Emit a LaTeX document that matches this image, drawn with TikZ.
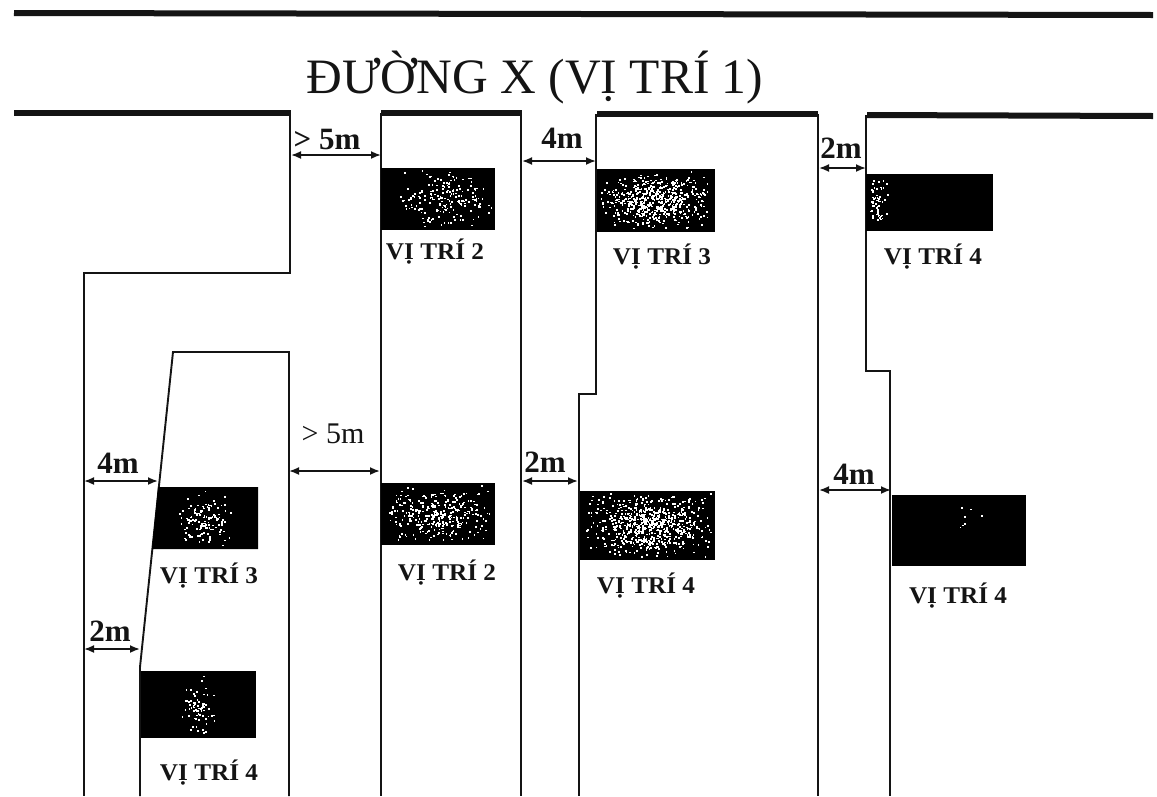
\documentclass[tikz,border=0pt]{standalone}
\usepackage{fontspec}
\setmainfont{Liberation Serif}
\usetikzlibrary{arrows.meta}
\definecolor{ink}{gray}{0.08}
\tikzset{
  road/.style={ink,line width=6pt},
  wall/.style={ink,line width=1.9pt},
  dim/.style={ink,line width=1.8pt,{Latex[length=10pt,width=8pt]}-{Latex[length=10pt,width=8pt]}},
  block/.style={fill=black,inner sep=0pt,outer sep=0pt,anchor=north west},
  tag/.style={font=\bfseries\fontsize{24}{24}\selectfont,ink,inner sep=0pt,xscale=1.05},
  dimtext/.style={font=\bfseries\fontsize{31}{31}\selectfont,ink,inner sep=0pt},
  title/.style={font=\fontsize{49.5}{49.5}\selectfont,ink,inner sep=0pt}
}
\newcommand{\specks}[5]{%
  \foreach \k in {1,...,#5}{%
    \pgfmathsetmacro{\px}{#1+#3*(rnd+rnd-1)}%
    \pgfmathsetmacro{\py}{#2+#4*(rnd+rnd-1)}%
    \fill[white] (\px,\py) rectangle ++(1.7,1.7);
  }%
}
\begin{document}
\begin{tikzpicture}[x=1pt,y=-1pt]
\useasboundingbox[fill=white] (0,0) rectangle (1157,796);
\pgfmathsetseed{4242}
% road lines
\coordinate (t1) at (14,13); \coordinate (t2) at (1153,15);
\draw[road] (t1) -- (t2);
\node[title] (ttl) at (535,78) {ĐƯỜNG X (VỊ TRÍ 1)};
\coordinate (a1) at (14,113); \coordinate (a2) at (291,113);
\coordinate (b1) at (381,113); \coordinate (b2) at (522,113);
\coordinate (c1) at (597,114); \coordinate (c2) at (818,114);
\coordinate (d1) at (867,115); \coordinate (d2) at (1153,116);
\draw[road] (a1) -- (a2);
\draw[road] (b1) -- (b2);
\draw[road] (c1) -- (c2);
\draw[road] (d1) -- (d2);
% walls
\draw[wall] (290,113) -- (290,273) -- (84,273) -- (84,796);
\draw[wall] (140,796) -- (140,667) -- (173,352) -- (289,352) -- (289,796);
\draw[wall] (381,113) -- (381,796);
\draw[wall] (521,113) -- (521,796);
\draw[wall] (596,114) -- (596,394) -- (579,394) -- (579,796);
\draw[wall] (818,114) -- (818,796);
\draw[wall] (866,115) -- (866,371) -- (890,371) -- (890,796);
% blocks
\node[block,minimum width=114pt,minimum height=62pt] (r1) at (381,168) {};
\specks{445}{199}{50}{30}{190}
\node[block,minimum width=118pt,minimum height=63pt] (r2) at (597,169) {};
\specks{655}{200}{57}{30}{560}
\node[block,minimum width=127pt,minimum height=57pt] (r3) at (866,174) {};
\specks{878}{202}{11}{27}{55}
\fill[black] (158,487) -- (258,487) -- (258,549) -- (152,549) -- cycle;
\specks{204}{518}{28}{30}{130}
\node[block,minimum width=115pt,minimum height=67pt] (r5) at (141,671) {};
\specks{198}{705}{18}{33}{70}
\node[block,minimum width=114pt,minimum height=62pt] (r6) at (381,483) {};
\specks{438}{514}{53}{30}{320}
\node[block,minimum width=135pt,minimum height=69pt] (r7) at (580,491) {};
\specks{647}{525}{65}{33}{700}
\node[block,minimum width=134pt,minimum height=71pt] (r8) at (892,495) {};
\specks{965}{520}{20}{25}{7}
% block labels
\node[tag] (l1) at (435,252) {VỊ TRÍ 2};
\node[tag] (l2) at (662,257) {VỊ TRÍ 3};
\node[tag] (l3) at (933,257) {VỊ TRÍ 4};
\node[tag] (l4) at (209,576) {VỊ TRÍ 3};
\node[tag] (l5) at (209,773) {VỊ TRÍ 4};
\node[tag] (l6) at (447,573) {VỊ TRÍ 2};
\node[tag] (l7) at (646,586) {VỊ TRÍ 4};
\node[tag] (l8) at (958,596) {VỊ TRÍ 4};
% dimension ends
\coordinate (p1) at (291,155); \coordinate (q1) at (381,155);
\coordinate (p2) at (522,161); \coordinate (q2) at (596,161);
\coordinate (p3) at (819,168); \coordinate (q3) at (866,168);
\coordinate (p4) at (289,471); \coordinate (q4) at (380,471);
\coordinate (p5) at (522,481); \coordinate (q5) at (578,481);
\coordinate (p6) at (819,490); \coordinate (q6) at (891,490);
\coordinate (p7) at (84,481); \coordinate (q7) at (158,481);
\coordinate (p8) at (84,649); \coordinate (q8) at (140,649);
\draw[dim] (p1) -- (q1);
\draw[dim] (p2) -- (q2);
\draw[dim] (p3) -- (q3);
\draw[dim] (p4) -- (q4);
\draw[dim] (p5) -- (q5);
\draw[dim] (p6) -- (q6);
\draw[dim] (p7) -- (q7);
\draw[dim] (p8) -- (q8);
\node[dimtext] (d1t) at (327,139) {> 5m};
\node[dimtext] (d2t) at (562,138) {4m};
\node[dimtext] (d3t) at (841,148) {2m};
\node[dimtext,font=\fontsize{30}{30}\selectfont] (d4t) at (333,434) {> 5m};
\node[dimtext] (d5t) at (545,462) {2m};
\node[dimtext] (d6t) at (854,474) {4m};
\node[dimtext] (d7t) at (118,463) {4m};
\node[dimtext] (d8t) at (110,631) {2m};
\end{tikzpicture}
\end{document}
